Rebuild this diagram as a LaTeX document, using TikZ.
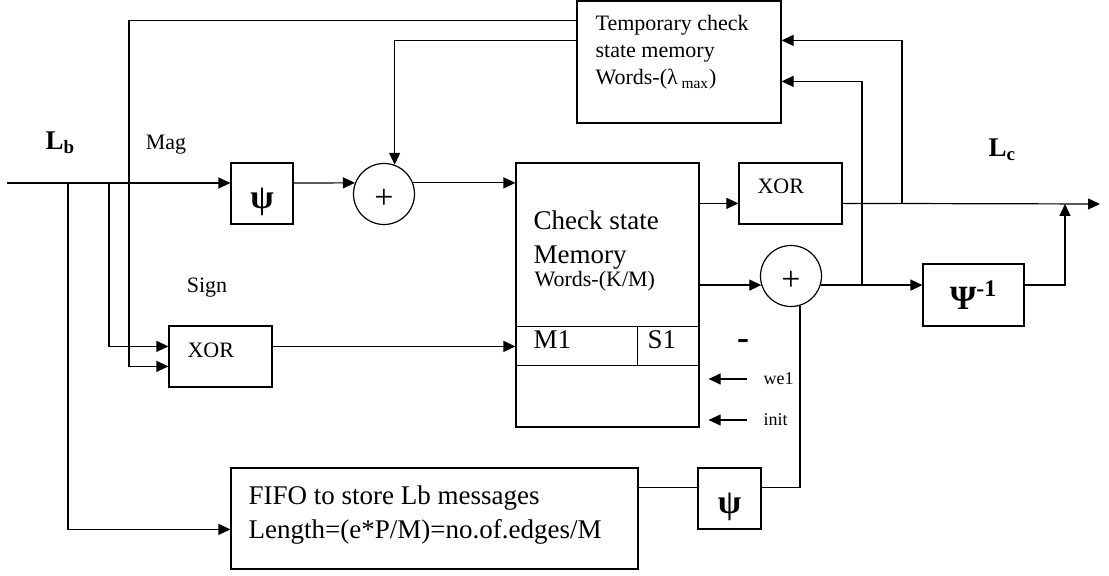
\documentclass[tikz,border=0pt]{standalone}
\usepackage{fontspec}
\setmainfont{Liberation Serif}
\usetikzlibrary{arrows.meta, calc, positioning}

\begin{document}
\begin{tikzpicture}[
    x=0.5pt, y=-0.5pt,
    >={Triangle[length=6pt, width=5.5pt]},
    line width=0.6pt,
    box/.style      ={draw, inner sep=0pt},
    psibox/.style   ={box, minimum width=31pt, minimum height=30.5pt,
                      text height=19pt, text depth=4pt,
                      font=\fontsize{17}{17}\bfseries},
    sumnode/.style  ={circle, draw, inner sep=0pt, minimum size=30.5pt,
                      text height=14.5pt, text depth=0pt,
                      font=\fontsize{17}{17}\selectfont},
    flow/.style     ={->},
    lbl/.style      ={inner sep=0pt, align=left, font=\fontsize{11}{13.5}\selectfont},
    biglbl/.style   ={lbl, font=\fontsize{13.5}{17}\selectfont},
    smalllbl/.style ={lbl, font=\fontsize{9}{10}\selectfont},
    siglbl/.style   ={inner sep=0pt, font=\fontsize{13.5}{15}\bfseries}
]
\useasboundingbox (0,0) rectangle (1109,576);

% =================== blocks ===================
\node[box, minimum width=102pt, minimum height=61pt] (tmp) at (679,62) {};
\node[box, minimum width=91.5pt, minimum height=132pt] (mem) at (607.5,295) {};
\node[box, minimum width=51.5pt, minimum height=30.5pt] (xorA) at (220.5,356.5) {};
\node[box, minimum width=51.5pt, minimum height=30.5pt] (xorB) at (790.5,193.5) {};
\node[box, minimum width=203.5pt, minimum height=50.5pt] (fifo) at (434.5,518.5) {};
\node[psibox] (psiA) at (262,193.5) {ψ};
\node[psibox, minimum width=31.5pt] (psiB) at (729.5,498.5) {ψ};
\node[box, minimum width=50.5pt, minimum height=31pt,
      font=\fontsize{17}{17}\bfseries] (psiInv) at (973.5,295) {Ψ\textsuperscript{-1}};
\node[sumnode] (sumA) at (384,194) {+};
\node[sumnode] (sumB) at (791,276) {+};

% M1 / S1 fields of the check state memory
\draw ($(mem.north west)+(0,164)$) -- ($(mem.north east)+(0,164)$);
\draw ($(mem.north west)+(0,203)$) -- ($(mem.north east)+(0,203)$);
\draw ($(mem.north west)+(122,164)$) -- ++(0,39);

% =================== texts ===================
\node[lbl, anchor=north west] (tmptxt) at (595,15)
    {Temporary check\\state memory\\Words-(λ\textsubscript{ max})};
\node[biglbl, anchor=north west] (memtxt) at (533,210) {Check state\\Memory};
\node[lbl, anchor=west] (memwords) at (534,281) {Words-(K/M)};
\node[biglbl, anchor=west] (mone) at (533,340) {M1};
\node[biglbl, anchor=west] (sone) at (647,340) {S1};
\node[lbl, anchor=west] (xorAtxt) at (187,350) {XOR};
\node[lbl, anchor=west] (xorBtxt) at (757,186) {XOR};
\node[biglbl, anchor=north west] (fifotxt) at (248,485)
    {FIFO to store Lb messages\\Length=(e*P/M)=no.of.edges/M};
\node[lbl] (mag) at (166,145) {Mag};
\node[lbl] (sign) at (207,288) {Sign};
\node[siglbl, anchor=west] (lb) at (45,143) {L\textsubscript{b}};
\node[siglbl, anchor=west] (lc) at (988,150) {L\textsubscript{c}};
\node[inner sep=0pt, font=\fontsize{18}{18}\bfseries] (minus) at (743,345) {-};
\node[smalllbl, anchor=west] (we1) at (763,379) {we1};
\node[smalllbl, anchor=west] (init) at (763,420) {init};

% =================== wiring ===================
\coordinate (in)    at (7,183);
\coordinate (tapA)  at (68,183);
\coordinate (tapB)  at (109,183);
\coordinate (tapC)  at (129,183);
\coordinate (fbA)   at (902,204);
\coordinate (fbB)   at (862,285);
\coordinate (merge) at (1065,204);
\coordinate (out)   at (1100,204);

% magnitude path
\draw[flow] (in) -- (in -| psiA.west);
\draw[flow] (psiA.east |- in) -- (sumA.159);
\draw[flow] (sumA.21) -- (sumA.21 -| mem.west);

% sign path and FIFO taps
\draw[flow] (tapB) |- ($(xorA.north west)+(0,21)$);
\draw[flow] (tapC) |- ($(xorA.north west)+(0,41)$);
\draw[flow] (tapA) |- ($(fifo.north west)+(0,62)$);
\draw[flow] ($(xorA.north east)+(0,21)$) -- ($(mem.north west)+(0,184)$);

% temporary memory loop
\draw (tapC) |- ($(tmp.north west)+(0,20)$);
\draw[flow] ($(tmp.north west)+(0,40)$) -| (sumA.70);
\draw[flow] (fbA) |- ($(tmp.north east)+(0,40)$);
\draw[flow] (fbB) |- ($(tmp.north east)+(0,81)$);

% outputs
\draw[flow] ($(mem.north east)+(0,41)$) -- ($(xorB.north west)+(0,41)$);
\draw[flow] ($(xorB.north east)+(0,41)$) -- (out);
\draw[flow] (sumB.197 -| mem.east) -- (sumB.197);
\draw[flow] (sumB.-17) -- (sumB.-17 -| psiInv.west);
\draw[flow] (sumB.-17 -| psiInv.east) -| (merge);

% FIFO back to the subtractor
\draw ($(fifo.north east)+(0,20)$) -- ($(psiB.north west)+(0,20)$);
\draw ($(psiB.north east)+(0,20)$) -| (sumB.-73);

% control inputs
\draw[flow, shorten >=4.5pt] ($(we1.west)+(-16,0)$) -- (we1.west -| mem.east);
\draw[flow, shorten >=4.5pt] ($(init.west)+(-16,0)$) -- (init.west -| mem.east);

\end{tikzpicture}
\end{document}
